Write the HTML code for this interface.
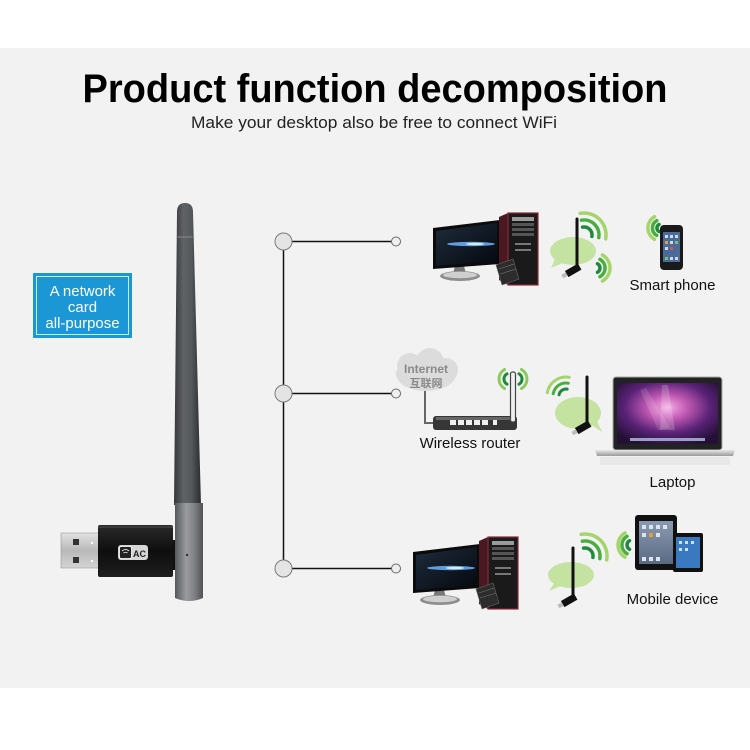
<!DOCTYPE html>
<html><head><meta charset="utf-8"><style>
html,body{margin:0;padding:0;background:#fff;}
svg{display:block;}
text{font-family:"Liberation Sans","Noto Sans CJK SC",sans-serif;}
</style></head><body>
<svg width="750" height="750" viewBox="0 0 750 750" xmlns="http://www.w3.org/2000/svg">
<defs>
<linearGradient id="ant" x1="0" x2="1" y1="0" y2="0">
<stop offset="0" stop-color="#343638"/><stop offset="0.35" stop-color="#606366"/><stop offset="0.65" stop-color="#55585b"/><stop offset="1" stop-color="#2a2c2e"/>
</linearGradient>
<linearGradient id="sleeve" x1="0" x2="1" y1="0" y2="0">
<stop offset="0" stop-color="#55585a"/><stop offset="0.4" stop-color="#9a9c9f"/><stop offset="0.7" stop-color="#7e8083"/><stop offset="1" stop-color="#505254"/>
</linearGradient>
<linearGradient id="plug" x1="0" x2="0" y1="0" y2="1">
<stop offset="0" stop-color="#e2e2e2"/><stop offset="0.5" stop-color="#b8b8b8"/><stop offset="1" stop-color="#d4d4d4"/>
</linearGradient>
<linearGradient id="usb" x1="0" x2="0" y1="0" y2="1">
<stop offset="0" stop-color="#2a2a2a"/><stop offset="0.5" stop-color="#0e0e0e"/><stop offset="1" stop-color="#1e1e1e"/>
</linearGradient>
<linearGradient id="scr" x1="0" x2="1" y1="0" y2="1">
<stop offset="0" stop-color="#1e2c3c"/><stop offset="1" stop-color="#05080e"/>
</linearGradient>
<radialGradient id="purple" cx="0.5" cy="0.4" r="0.65">
<stop offset="0" stop-color="#f4b0e4"/><stop offset="0.3" stop-color="#c25ab4"/><stop offset="0.65" stop-color="#5a2378"/><stop offset="1" stop-color="#241036"/>
</radialGradient>
<linearGradient id="silver" x1="0" x2="0" y1="0" y2="1">
<stop offset="0" stop-color="#e8e8e8"/><stop offset="1" stop-color="#9a9a9a"/>
</linearGradient>
<linearGradient id="ipad" x1="0" x2="0" y1="0" y2="1">
<stop offset="0" stop-color="#8a9ab0"/><stop offset="1" stop-color="#5a6a84"/>
</linearGradient>
<g id="pc">
 <path d="M22,53 L31,53 L33,61 L20,61Z" fill="#777"/>
 <ellipse cx="27" cy="63" rx="20" ry="5" fill="#8e8e8e"/>
 <ellipse cx="27" cy="62" rx="17" ry="3.2" fill="#cfcfcf"/>
 <polygon points="0,15 67,7 67,51 0,56" fill="#0b0b0b"/>
 <polygon points="3,18 64,10 64,48 3,53" fill="url(#scr)"/>
 <ellipse cx="38" cy="31" rx="24" ry="2.2" fill="#6fb4ff" opacity="0.85"/>
 <ellipse cx="42" cy="31" rx="9" ry="1.2" fill="#d8ecff"/>
 <polygon points="66,4 75,0 75,72 66,67" fill="#4a1820"/>
 <rect x="75" y="0" width="30" height="72" fill="#1a1a1a" stroke="#8b2b38" stroke-width="1.2"/>
 <rect x="79" y="4" width="22" height="4" fill="#9a9a9a"/>
 <rect x="79" y="10" width="22" height="3" fill="#555"/>
 <rect x="79" y="15" width="22" height="3" fill="#555"/>
 <rect x="79" y="20" width="22" height="3" fill="#555"/>
 <rect x="82" y="30" width="16" height="2" fill="#777"/>
 <rect x="82" y="36" width="16" height="2" fill="#777"/>
 <polygon points="63,52 80,46 86,66 69,72" fill="#2c2c2c" stroke="#666" stroke-width="0.6"/>
 <line x1="66" y1="56" x2="81" y2="51" stroke="#777" stroke-width="0.6"/>
 <line x1="67" y1="61" x2="83" y2="56" stroke="#777" stroke-width="0.6"/>
</g>
</defs>

<rect x="0" y="0" width="750" height="750" fill="#fff"/>
<rect x="0" y="48" width="750" height="640" fill="#f2f2f2"/>

<!-- Title -->
<text x="375" y="102" text-anchor="middle" font-size="40" font-weight="bold" fill="#000" textLength="585" lengthAdjust="spacingAndGlyphs">Product function decomposition</text>
<text x="374" y="128" text-anchor="middle" font-size="17" fill="#222" textLength="366" lengthAdjust="spacingAndGlyphs">Make your desktop also be free to connect WiFi</text>

<!-- Blue box -->
<rect x="33" y="273" width="99" height="65" fill="#1c97d5"/>
<rect x="36.5" y="276.5" width="92" height="58" fill="none" stroke="#cfe8f6" stroke-width="1"/>
<text x="82.5" y="296" text-anchor="middle" font-size="15" fill="#fff">A network</text>
<text x="82.5" y="312" text-anchor="middle" font-size="15" fill="#fff">card</text>
<text x="82.5" y="328" text-anchor="middle" font-size="15" fill="#fff">all-purpose</text>

<!-- Big antenna -->
<path d="M177,212 Q177,203 185,203 Q193,203 193,212 L201,505 L174,505 Z" fill="url(#ant)"/>
<line x1="177.5" y1="237" x2="192.5" y2="237" stroke="#8a8c8e" stroke-width="1"/>
<rect x="170" y="540" width="10" height="30" fill="#111"/>
<path d="M175,503 L203,503 L203,598 Q189,604 175,598 Z" fill="url(#sleeve)"/>
<circle cx="187" cy="555" r="1.2" fill="#333"/>

<!-- USB dongle -->
<rect x="61" y="533" width="38" height="35" fill="url(#plug)" stroke="#999" stroke-width="0.6"/>
<rect x="73" y="539" width="6" height="6" fill="#333"/>
<rect x="73" y="557" width="6" height="6" fill="#333"/>
<rect x="91" y="542" width="2" height="2" fill="#fff"/>
<rect x="91" y="560" width="2" height="2" fill="#fff"/>
<rect x="98" y="525" width="75" height="52" rx="2" fill="url(#usb)"/>
<rect x="98" y="526" width="75" height="2" fill="#3a3a3a"/>
<rect x="118" y="545" width="30" height="15" rx="3" fill="#d6d6d6"/>
<rect x="119.5" y="546.5" width="12" height="12" rx="2" fill="#222" stroke="#fff" stroke-width="0.8"/>
<path d="M122,551 Q125.5,548 129,551 M123.5,553 Q125.5,551.5 127.5,553" fill="none" stroke="#fff" stroke-width="0.8"/>
<text x="133" y="557" font-size="9" font-weight="bold" fill="#222">AC</text>

<!-- Connectors -->
<g stroke="#111" stroke-width="1.5">
<line x1="283.5" y1="242" x2="283.5" y2="568"/>
<line x1="283" y1="241.5" x2="396" y2="241.5"/>
<line x1="283" y1="393.5" x2="396" y2="393.5"/>
<line x1="283" y1="568.5" x2="396" y2="568.5"/>
</g>
<g fill="#e4e4e4" stroke="#7a7a7a" stroke-width="1">
<circle cx="283.5" cy="241.5" r="8.5"/>
<circle cx="283.5" cy="393.5" r="8.5"/>
<circle cx="283.5" cy="568.5" r="8.5"/>
</g>
<g fill="#eeeeee" stroke="#6a6a6a" stroke-width="1">
<circle cx="396" cy="241.5" r="4.5"/>
<circle cx="396" cy="393.5" r="4.5"/>
<circle cx="396" cy="568.5" r="4.5"/>
</g>

<!-- Row 1 -->
<use href="#pc" transform="translate(433,213)"/>
<ellipse cx="573" cy="251" rx="23" ry="14" fill="#c4e3a0"/>
<polygon points="556,257 551,268 565,262" fill="#c4e3a0"/>
<line x1="577" y1="219" x2="577" y2="266" stroke="#111" stroke-width="3" stroke-linecap="round"/>
<g transform="rotate(-30 573 271)"><rect x="566" y="267" width="15" height="7" fill="#111"/><rect x="561" y="268.5" width="5" height="4" fill="#bbb"/></g>
<g fill="none" stroke-width="3.5" stroke-linecap="round">
<path d="M582.6,227.1 A8 8 0 0 1 591.9,236.4" stroke="#1f8a3c"/>
<path d="M581.4,220.2 A15 15 0 0 1 598.8,237.6" stroke="#4aae3e"/>
<path d="M580.2,213.3 A22 22 0 0 1 605.7,238.8" stroke="#a6d46c"/>
<path d="M597.5,263.7 A5 5 0 0 1 597.5,272.3" stroke="#1f8a3c"/>
<path d="M600,259.3 A10 10 0 0 1 600,276.7" stroke="#4aae3e"/>
<path d="M602.5,255 A15 15 0 0 1 602.5,281" stroke="#a6d46c"/>
<path d="M659,224.5 A4 4 0 0 0 659,231.5" stroke="#1f8a3c"/>
<path d="M656.75,220.6 A8.5 8.5 0 0 0 656.75,235.4" stroke="#4aae3e"/>
<path d="M654.5,216.7 A13 13 0 0 0 654.5,239.3" stroke="#a6d46c"/>
</g>
<rect x="660" y="225" width="23" height="45" rx="4" fill="#1a1a1a"/>
<rect x="663" y="232" width="17" height="30" fill="#4a6a9a"/>
<g fill="#d0d8e8"><rect x="665" y="235" width="3" height="3"/><rect x="670" y="235" width="3" height="3"/><rect x="675" y="235" width="3" height="3"/><rect x="665" y="241" width="3" height="3" fill="#e89a40"/><rect x="670" y="241" width="3" height="3"/><rect x="675" y="241" width="3" height="3" fill="#7ac070"/><rect x="665" y="247" width="3" height="3"/><rect x="670" y="247" width="3" height="3" fill="#e05050"/><rect x="665" y="257" width="3" height="3" fill="#7ac070"/><rect x="670" y="257" width="3" height="3"/><rect x="675" y="257" width="3" height="3"/></g>
<text x="672.5" y="290" text-anchor="middle" font-size="15" fill="#111">Smart phone</text>

<!-- Row 2 -->
<g fill="#dcdcdc">
<ellipse cx="426" cy="374" rx="30" ry="17"/>
<circle cx="410" cy="366" r="13"/>
<circle cx="430" cy="362" r="14"/>
<circle cx="446" cy="370" r="12"/>
</g>
<text x="426" y="373" text-anchor="middle" font-size="12" font-weight="bold" fill="#8a8a8a">Internet</text>
<text x="426" y="387" text-anchor="middle" font-size="11" font-weight="bold" fill="#8a8a8a">互联网</text>
<path d="M425,391 L425,423 L434,423" fill="none" stroke="#666" stroke-width="2"/>
<rect x="433" y="416" width="84" height="14" rx="3" fill="#363636"/>
<rect x="436" y="417" width="78" height="3" fill="#666"/>
<g fill="#eee"><rect x="450" y="420" width="6" height="5"/><rect x="458" y="420" width="6" height="5"/><rect x="466" y="420" width="6" height="5"/><rect x="474" y="420" width="6" height="5"/><rect x="482" y="420" width="6" height="5"/><rect x="493" y="420" width="4" height="5"/></g>
<rect x="510.5" y="372" width="5" height="50" rx="2" fill="#eee" stroke="#444" stroke-width="1.2"/>
<g fill="none" stroke-width="3" stroke-linecap="round">
<path d="M507,373.8 A6 6 0 0 0 507,384.2" stroke="#1f8a3c"/>
<path d="M504.5,369.5 A11 11 0 0 0 504.5,388.5" stroke="#8cc85a"/>
<path d="M519,373.8 A6 6 0 0 1 519,384.2" stroke="#1f8a3c"/>
<path d="M521.5,369.5 A11 11 0 0 1 521.5,388.5" stroke="#8cc85a"/>
<path d="M559.1,394.8 A7 7 0 0 1 567.2,389.1" stroke="#1f8a3c"/>
<path d="M553.2,393.7 A13 13 0 0 1 568.3,383.2" stroke="#4aae3e"/>
<path d="M547.3,392.7 A19 19 0 0 1 569.3,377.3" stroke="#a6d46c"/>
</g>
<text x="470" y="448" text-anchor="middle" font-size="15" fill="#111">Wireless router</text>
<ellipse cx="578" cy="413" rx="23" ry="16" fill="#c4e3a0"/>
<polygon points="590,424 602,432 596,419" fill="#c4e3a0"/>
<line x1="587" y1="377" x2="587" y2="424" stroke="#111" stroke-width="3" stroke-linecap="round"/>
<g transform="rotate(-30 583 428)"><rect x="576" y="424" width="15" height="7" fill="#111"/><rect x="571" y="425.5" width="5" height="4" fill="#bbb"/></g>
<rect x="600" y="457" width="130" height="8" fill="#e8e8e8"/>
<rect x="613" y="377" width="109" height="73" rx="3" fill="#222" stroke="#aaa" stroke-width="1"/>
<rect x="617" y="383" width="101" height="61" fill="url(#purple)"/>
<polygon points="662,385 668,385 675,430 660,430" fill="#fff" opacity="0.18"/>
<polygon points="640,390 646,388 670,428 658,430" fill="#fff" opacity="0.12"/>
<rect x="630" y="438" width="75" height="3" fill="#9aa0c0"/>
<path d="M595,450 L735,450 L733,456 L597,456 Z" fill="url(#silver)"/>
<text x="672.5" y="487" text-anchor="middle" font-size="15" fill="#111">Laptop</text>

<!-- Row 3 -->
<use href="#pc" transform="translate(413,537)"/>
<ellipse cx="571" cy="575" rx="23" ry="13" fill="#c4e3a0"/>
<polygon points="555,582 549,591 563,585" fill="#c4e3a0"/>
<line x1="573" y1="548" x2="573" y2="597" stroke="#111" stroke-width="3" stroke-linecap="round"/>
<g transform="rotate(-30 569 601)"><rect x="562" y="597" width="15" height="7" fill="#111"/><rect x="557" y="598.5" width="5" height="4" fill="#bbb"/></g>
<g fill="none" stroke-width="3.5" stroke-linecap="round">
<path d="M583.6,548.1 A8 8 0 0 1 592.9,557.4" stroke="#1f8a3c"/>
<path d="M582.4,541.2 A15 15 0 0 1 599.8,558.6" stroke="#4aae3e"/>
<path d="M581.2,534.3 A22 22 0 0 1 606.7,559.8" stroke="#a6d46c"/>
<path d="M629.5,540.7 A5 5 0 0 0 629.5,549.3" stroke="#1f8a3c"/>
<path d="M627,536.3 A10 10 0 0 0 627,553.7" stroke="#4aae3e"/>
<path d="M625,532.9 A14 14 0 0 0 625,557.1" stroke="#a6d46c"/>
</g>
<rect x="635" y="515" width="42" height="55" rx="3" fill="#111"/>
<rect x="639" y="521" width="34" height="43" fill="url(#ipad)"/>
<g fill="#dde4ee"><rect x="642" y="525" width="4" height="4"/><rect x="649" y="525" width="4" height="4"/><rect x="656" y="525" width="4" height="4"/><rect x="663" y="525" width="4" height="4"/><rect x="642" y="533" width="4" height="4"/><rect x="649" y="533" width="4" height="4" fill="#e89a40"/><rect x="656" y="533" width="4" height="4"/><rect x="642" y="557" width="4" height="4"/><rect x="649" y="557" width="4" height="4"/><rect x="656" y="557" width="4" height="4"/></g>
<rect x="673" y="533" width="30" height="39" rx="2" fill="#111"/>
<rect x="676" y="537" width="24" height="31" fill="#3a78c0"/>
<g fill="#cfe0f4"><rect x="679" y="541" width="3" height="3"/><rect x="685" y="541" width="3" height="3"/><rect x="691" y="541" width="3" height="3"/><rect x="679" y="548" width="3" height="3"/><rect x="685" y="548" width="3" height="3"/></g>
<text x="672.5" y="604" text-anchor="middle" font-size="15" fill="#111">Mobile device</text>
</svg>
</body></html>
